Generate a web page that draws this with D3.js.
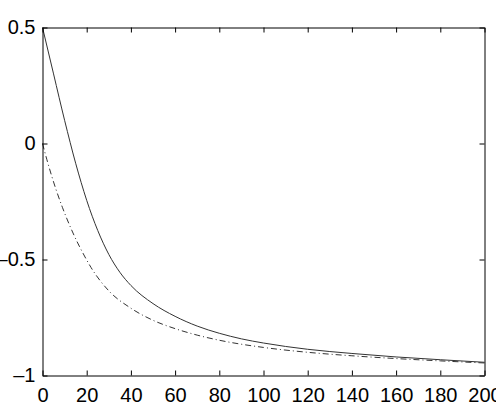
<!DOCTYPE html>
<html>
<head>
<meta charset="utf-8">
<script src="https://cdn.jsdelivr.net/npm/d3@7"></script>
<style>
  html, body { margin: 0; padding: 0; background: #fff; overflow: hidden; }
  text { font-family: "Liberation Sans", Arial, Helvetica, sans-serif; }
</style>
</head>
<body>
<div id="chart"></div>
<script>
// values
var solid_x = [0, 5, 10, 15, 20, 25, 30, 35, 40, 50, 60, 70, 80, 90, 100, 120, 140, 160, 180, 200];
var solid_y = [0.5, 0.30, 0.10, -0.085, -0.245, -0.375, -0.478, -0.555, -0.612, -0.69, -0.745, -0.787, -0.818, -0.842, -0.86, -0.887, -0.905, -0.92, -0.932, -0.943];

var dash_x = [0, 2, 4, 6, 9, 14, 19, 22, 30, 40, 50, 60, 70, 80, 100, 120, 140, 160, 180, 200];
var dash_y = [0, -0.07, -0.135, -0.195, -0.275, -0.39, -0.485, -0.535, -0.635, -0.71, -0.762, -0.798, -0.826, -0.848, -0.879, -0.9, -0.915, -0.927, -0.937, -0.946];

var x_ticks = [0, 20, 40, 60, 80, 100, 120, 140, 160, 180, 200];
var y_ticks = [-1, -0.5, 0, 0.5];

var w = 496, h = 409;
// note: "top" is taken by window.top, so use other names
var m_left = 42.5, m_right = 484.5, m_top = 27.5, m_bottom = 375.5;

var svg = d3.select('#chart')
  .append('svg')
    .attr('width', w)
    .attr('height', h);

var x = d3.scaleLinear().domain([0, 200]).range([m_left, m_right]);
var y = d3.scaleLinear().domain([-1, 0.5]).range([m_bottom, m_top]);

// long dash for the minus, like the original
function fmt(v) {
  return (v < 0 ? '\u2013' : '') + Math.abs(v);
}

// curves
var line = d3.line()
  .x(function(d) { return x(d[0]); })
  .y(function(d) { return y(d[1]); })
  .curve(d3.curveMonotoneX);

svg.append('path')
  .datum(d3.zip(solid_x, solid_y))
  .attr('d', line)
  .attr('fill', 'none')
  .attr('stroke', '#333')
  .attr('stroke-width', 1);

svg.append('path')
  .datum(d3.zip(dash_x, dash_y))
  .attr('d', line)
  .attr('fill', 'none')
  .attr('stroke', '#333')
  .attr('stroke-width', 1)
  .attr('stroke-dasharray', '6,3,1,3');

// axes, ticks inward on all four sides (matlab box)
var tl = 5;
svg.append('g')
  .attr('transform', 'translate(0,' + m_bottom + ')')
  .call(d3.axisBottom(x).tickValues(x_ticks).tickSizeInner(-tl).tickSizeOuter(0).tickPadding(12).tickFormat(fmt));
svg.append('g')
  .attr('transform', 'translate(0,' + m_top + ')')
  .call(d3.axisTop(x).tickValues(x_ticks).tickSizeInner(-tl).tickSizeOuter(0).tickFormat(''));
svg.append('g')
  .attr('transform', 'translate(' + m_left + ',0)')
  .call(d3.axisLeft(y).tickValues(y_ticks).tickSizeInner(-tl).tickSizeOuter(0).tickPadding(7).tickFormat(fmt));
svg.append('g')
  .attr('transform', 'translate(' + m_right + ',0)')
  .call(d3.axisRight(y).tickValues(y_ticks).tickSizeInner(-tl).tickSizeOuter(0).tickFormat(''));

svg.selectAll('.domain').attr('stroke', '#000');
svg.selectAll('.tick line').attr('stroke', '#000');
svg.selectAll('.tick text')
  .attr('fill', '#000')
  .style('font-size', '20px')
  .style('font-family', '"Liberation Sans", Arial, sans-serif');
</script>
</body>
</html>
